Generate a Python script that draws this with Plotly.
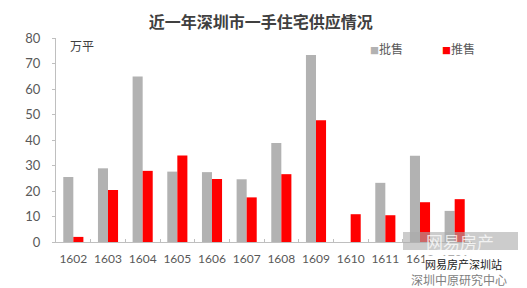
import plotly.graph_objects as go

months = ["1602", "1603", "1604", "1605", "1606", "1607", "1608", "1609", "1610", "1611", "1612", "1701"]
wholesale = [25.5, 28.9, 64.9, 27.6, 27.4, 24.6, 38.8, 73.3, 0, 23.2, 33.8, 12.2]   # 批售
launched = [2.0, 20.4, 27.9, 33.9, 24.7, 17.5, 26.6, 47.7, 10.9, 10.5, 15.6, 16.8]  # 推售
y_ticks = [0, 10, 20, 30, 40, 50, 60, 70, 80]
series_names = ["批售", "推售"]
series_colors = ["#B2B2B2", "#FF0000"]

cjk = "Noto Sans CJK SC"
num_font = "Lato"

fig = go.Figure()
fig.add_trace(go.Bar(x=months, y=wholesale, name=series_names[0], marker_color=series_colors[0], marker_line_width=0))
fig.add_trace(go.Bar(x=months, y=launched, name=series_names[1], marker_color=series_colors[1], marker_line_width=0))

fig.update_layout(
    width=527, height=288,
    margin=dict(l=56, r=55, t=38, b=46),
    paper_bgcolor="white", plot_bgcolor="white",
    barmode="group", bargap=0.42, bargroupgap=0,
    title=dict(text="<b>近一年深圳市一手住宅供应情况</b>", x=0.495, xanchor="center", y=0.922, yanchor="middle",
               font=dict(family=cjk, size=16, color="#404040")),
    showlegend=False,
)
fig.update_xaxes(
    type="category", showgrid=False, showline=True, linecolor="#BFBFBF", linewidth=1,
    ticks="inside", ticklen=3, tickcolor="#BFBFBF", tickson="boundaries", tickangle=0,
    ticklabelstandoff=6,
    tickfont=dict(family=num_font, size=12, color="#595959"),
)
fig.update_yaxes(
    range=[0, 80], tickvals=y_ticks, showgrid=False, zeroline=False, showline=True,
    linecolor="#BFBFBF", linewidth=1, ticks="outside", ticklen=3, tickcolor="#BFBFBF",
    tickfont=dict(family=num_font, size=13, color="#595959"), ticklabelstandoff=9,
)
# legend as text items
legend_x = [(368 - 56) / 416, (440 - 56) / 416]
for name, color, lx in zip(series_names, series_colors, legend_x):
    fig.add_annotation(text=f"<span style='color:{color};font-size:9px'>■</span>{name}",
                       xref="paper", yref="paper", x=lx, y=(242 - 48) / 204, xanchor="left", yanchor="middle",
                       showarrow=False, font=dict(family=cjk, size=12, color="#595959"))
fig.add_annotation(text="万平", xref="paper", yref="paper", x=0.03, y=0.965, xanchor="left", yanchor="middle",
                   showarrow=False, font=dict(family=cjk, size=12, color="#404040"))
# watermark box
fig.add_shape(type="rect", xref="paper", yref="paper", x0=(403-56)/416, x1=(518-56)/416,
              y0=(242-250)/204, y1=(242-232)/204, fillcolor="rgba(170,170,170,0.6)", line_width=0, layer="above")
fig.add_annotation(text="网易房产", xref="paper", yref="paper", x=(460-56)/416, y=(242-241)/204,
                   xanchor="center", yanchor="middle", showarrow=False, borderpad=0,
                   font=dict(family=cjk, size=17, color="rgba(255,255,255,0.75)"))
fig.add_annotation(text="网易房产深圳站", xref="paper", yref="paper", x=(463-56)/416, y=(242-264)/204,
                   xanchor="center", yanchor="middle", showarrow=False, bgcolor="white", borderpad=0,
                   font=dict(family=cjk, size=11, color="#222222"))
fig.add_annotation(text="深圳中原研究中心", xref="paper", yref="paper", x=(459-56)/416, y=(242-279)/204,
                   xanchor="center", yanchor="middle", showarrow=False, borderpad=0,
                   font=dict(family=cjk, size=12, color="#808080"))

fig.write_html("out.html")
